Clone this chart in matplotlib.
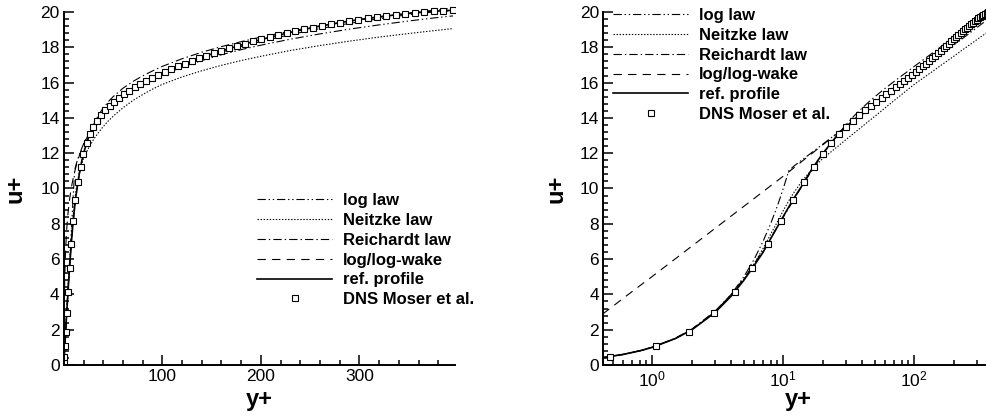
#!/usr/bin/env python3
"""
Wall law comparison: u+ vs y+ (linear and log axes)
"""

import matplotlib
matplotlib.use('Agg')
import matplotlib.pyplot as plt
from matplotlib.ticker import MultipleLocator, LogLocator, FixedLocator, NullFormatter


# ============================================================================
# DATA
# ============================================================================
# DNS Moser et al. (Re_tau = 395)
DNS_YPLUS = [0.119, 0.476, 1.070, 1.902, 2.971, 4.275, 5.815, 7.590, 9.598, 11.84,
             14.31, 17.01, 19.94, 23.09, 26.47, 30.07, 33.89, 37.92, 42.18, 46.64,
             51.32, 56.20, 61.28, 66.57, 72.05, 77.73, 83.60, 89.66, 95.90, 102.32,
             108.92, 115.69, 122.63, 129.73, 137.00, 144.41, 151.98, 159.70, 167.56, 175.55,
             183.68, 191.93, 200.31, 208.80, 217.40, 226.12, 234.93, 243.84, 252.84, 261.93,
             271.10, 280.34, 289.65, 299.02, 308.46, 317.94, 327.47, 337.04, 346.65, 356.28,
             365.94, 375.62, 385.31, 395.00]
DNS_UPLUS = [0.12, 0.48, 1.07, 1.89, 2.94, 4.15, 5.48, 6.86, 8.18, 9.36,
             10.37, 11.24, 11.96, 12.56, 13.06, 13.48, 13.84, 14.15, 14.43, 14.68,
             14.92, 15.14, 15.35, 15.55, 15.74, 15.92, 16.10, 16.27, 16.44, 16.60,
             16.76, 16.92, 17.07, 17.22, 17.37, 17.52, 17.66, 17.80, 17.94, 18.07,
             18.20, 18.33, 18.45, 18.57, 18.69, 18.80, 18.91, 19.02, 19.12, 19.22,
             19.31, 19.40, 19.49, 19.57, 19.65, 19.72, 19.79, 19.85, 19.91, 19.96,
             20.01, 20.05, 20.08, 20.10]

# y+ stations for the wall laws
CURVE_YPLUS = [0.1, 0.2, 0.3, 0.42, 0.6, 0.8, 1, 1.5, 2, 3, 4, 5, 6, 7, 8, 9, 10, 11, 12,
               14, 16, 18, 20, 23, 26, 30, 35, 40, 45, 50, 60, 70, 80, 90, 100, 120, 140,
               160, 180, 200, 230, 260, 290, 320, 350, 375, 395]

LOG_LAW = [0.1, 0.2, 0.3, 0.42, 0.6, 0.8, 1.0, 1.5, 2.0, 3.0, 4.0, 5.0, 6.0, 7.0, 8.0, 9.0, 10.0, 11.0, 11.26,
           11.64, 11.96, 12.25, 12.51, 12.85, 13.15, 13.50, 13.87, 14.20, 14.48, 14.74, 15.19, 15.56, 15.89, 16.18, 16.43, 16.88, 17.25,
           17.58, 17.87, 18.12, 18.46, 18.76, 19.03, 19.27, 19.49, 19.66, 19.78]

NEITZKE = [0.1, 0.2, 0.3, 0.42, 0.6, 0.8, 1.0, 1.5, 2.0, 2.98, 3.95, 4.85, 5.75, 6.6, 7.4, 8.1, 8.75, 9.3, 9.75,
           10.45, 10.95, 11.35, 11.7, 12.06, 12.38, 12.76, 13.16, 13.51, 13.82, 14.09, 14.57, 14.98, 15.32, 15.63, 15.9, 16.32, 16.67,
           16.98, 17.25, 17.49, 17.82, 18.1, 18.35, 18.58, 18.78, 18.94, 19.06]

REICHARDT = [0.10, 0.20, 0.30, 0.42, 0.60, 0.81, 1.01, 1.52, 2.03, 3.04, 4.00, 4.90, 5.73, 6.49, 7.18, 7.81, 8.38, 8.89, 9.36,
             10.18, 10.86, 11.44, 11.93, 12.55, 13.05, 13.60, 14.14, 14.56, 14.91, 15.20, 15.68, 16.06, 16.38, 16.66, 16.92, 17.35, 17.72,
             18.04, 18.32, 18.58, 18.92, 19.21, 19.48, 19.71, 19.93, 20.10, 20.22]

LOG_WAKE = [-0.6, 1.1, 2.08, 2.9, 3.78, 4.48, 5.02, 6.02, 6.73, 7.73, 8.44, 8.99, 9.44, 9.82, 10.15, 10.44, 10.7, 10.94, 11.16,
            11.56, 11.9, 12.2, 12.47, 12.83, 13.14, 13.50, 13.87, 14.20, 14.48, 14.76, 15.22, 15.60, 15.94, 16.25, 16.52, 16.98, 17.38,
            17.73, 18.05, 18.33, 18.72, 19.06, 19.36, 19.62, 19.85, 20.00, 20.08]

REF_PROFILE = [0.1, 0.2, 0.3, 0.42, 0.6, 0.8, 1.0, 1.5, 1.99, 2.96, 3.9, 4.8, 5.64, 6.38, 7.15, 7.82, 8.42, 8.95, 9.43,
               10.2, 10.93, 11.5, 11.98, 12.55, 13.03, 13.48, 13.93, 14.29, 14.6, 14.86, 15.3, 15.67, 15.99, 16.28, 16.55, 17.03, 17.44,
               17.8, 18.13, 18.44, 18.85, 19.2, 19.49, 19.73, 19.92, 20.04, 20.1]

LABELS = ['log law', 'Neitzke law', 'Reichardt law', 'log/log-wake', 'ref. profile',
          'DNS Moser et al.']
# ============================================================================

plt.rcParams['font.family'] = ['Liberation Sans', 'DejaVu Sans']
plt.rcParams['mathtext.fontset'] = 'custom'
plt.rcParams['mathtext.rm'] = 'Liberation Sans'
plt.rcParams['lines.scale_dashes'] = False

STYLES = [
    dict(color='black', lw=0.8, linestyle=(0, (6, 2, 1, 2, 1, 2))),
    dict(color='black', lw=0.8, linestyle=(0, (1, 1.2))),
    dict(color='black', lw=0.8, linestyle=(0, (6, 2.2, 1, 2.2))),
    dict(color='black', lw=0.8, linestyle=(0, (6, 4.5))),
    dict(color='black', lw=1.2, linestyle='-'),
]
CURVES = [LOG_LAW, NEITZKE, REICHARDT, LOG_WAKE, REF_PROFILE]


def style_axis(ax):
    for side in ['top', 'right']:
        ax.spines[side].set_visible(False)
    for side in ['left', 'bottom']:
        ax.spines[side].set_linewidth(1.4)
    ax.tick_params(which='both', direction='in', labelsize=12.5, width=1.1)
    ax.tick_params(which='major', length=7, pad=3)
    ax.tick_params(which='minor', length=3.5)
    ax.set_ylim(0, 20.4)
    ax.spines['left'].set_bounds(0, 20)
    ax.yaxis.set_major_locator(FixedLocator(list(range(0, 21, 2))))
    ax.yaxis.set_minor_locator(FixedLocator([v * 0.4 for v in range(51)]))
    ax.set_xlabel('y+', fontsize=17, fontweight='bold')
    ax.set_ylabel('u+', fontsize=17, fontweight='bold')


def draw(ax):
    handles = []
    for vals, st in zip(CURVES, STYLES):
        h, = ax.plot(CURVE_YPLUS, vals, **st)
        handles.append(h)
    h, = ax.plot(DNS_YPLUS, DNS_UPLUS, 's', ms=4.8, mfc='white', mec='black', mew=0.8,
                 linestyle='none')
    handles.append(h)
    return handles


fig = plt.figure(figsize=(9.87, 4.18), dpi=100)
W, H = 987.0, 418.0
AX_H = (365 - 4.94) / H

# left panel: linear axes
ax1 = fig.add_axes([63.8 / W, (H - 365) / H, (455 - 63.8) / W, AX_H])
handles = draw(ax1)
ax1.set_xlim(0, 397)
ax1.xaxis.set_major_locator(FixedLocator([100, 200, 300]))
ax1.xaxis.set_minor_locator(MultipleLocator(20))
style_axis(ax1)
ax1.xaxis.set_label_coords(0.5, -0.065)
ax1.yaxis.set_label_coords(-0.095, 0.49)

# right panel: log x axis
ax2 = fig.add_axes([603.3 / W, (H - 365) / H, 390 / W, AX_H])
draw(ax2)
ax2.set_xscale('log')
ax2.set_xlim(0.4226, 401)
ax2.xaxis.set_major_locator(LogLocator(base=10))
ax2.xaxis.set_minor_locator(LogLocator(base=10, subs=range(2, 10)))
ax2.xaxis.set_minor_formatter(NullFormatter())
style_axis(ax2)
ax2.xaxis.set_label_coords(0.5, -0.065)
ax2.yaxis.set_label_coords(-0.092, 0.49)

leg_kw = dict(frameon=False, loc='upper left', handlelength=4.5,
              handletextpad=0.66, labelspacing=0.29, borderpad=0, borderaxespad=0,
              prop={'weight': 'bold', 'size': 12}, bbox_transform=fig.transFigure)
ax1.legend(handles, LABELS, bbox_to_anchor=(257 / W, (H - 193) / H), **leg_kw)
ax2.legend(handles, LABELS, bbox_to_anchor=(613 / W, (H - 8) / H), **leg_kw)

fig.savefig('out.png', dpi=100)
